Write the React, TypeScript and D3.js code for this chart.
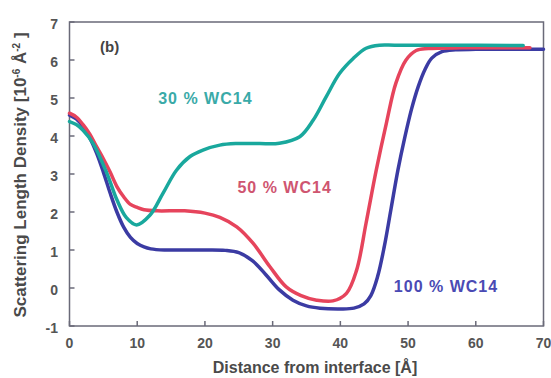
import { useRef, useEffect } from 'react';
import * as d3 from 'd3';

// distances (Å) and scattering length density (10^-6 Å^-2) per sample
const x100 = [0, 1, 2, 3, 4, 5, 6, 7, 8, 9, 10, 11, 12, 14, 17, 20, 23, 25, 27, 29, 31, 33, 35, 37, 40, 42, 43.5, 44.5, 45.5, 46.5, 47.5, 48.5, 49.5, 50.5, 51.5, 52.5, 53.5, 55, 57, 60, 65, 70];
const y100 = [4.55, 4.45, 4.25, 3.95, 3.55, 3.05, 2.5, 2.0, 1.6, 1.33, 1.17, 1.08, 1.03, 1.0, 1.0, 1.0, 0.99, 0.93, 0.72, 0.35, -0.05, -0.32, -0.47, -0.53, -0.55, -0.53, -0.42, -0.2, 0.3, 1.1, 2.1, 3.1, 3.95, 4.7, 5.3, 5.75, 6.05, 6.22, 6.27, 6.28, 6.28, 6.28];

const x50 = [0, 1, 2, 3, 4, 5, 6, 7, 8, 9, 10, 11, 13, 17, 20, 22.2, 24.7, 27.1, 29.6, 32, 34.2, 36.5, 38.9, 40.9, 42.4, 43.8, 45.3, 46.8, 48.2, 49.7, 51.2, 53, 58, 68];
const y50 = [4.6, 4.5, 4.3, 4.05, 3.72, 3.4, 3.05, 2.67, 2.4, 2.2, 2.12, 2.06, 2.03, 2.03, 1.97, 1.86, 1.61, 1.18, 0.56, 0.03, -0.2, -0.32, -0.34, -0.14, 0.47, 1.71, 3.1, 4.34, 5.39, 6.0, 6.25, 6.3, 6.32, 6.32];

const x30 = [0, 1, 2, 3.5, 5.5, 7, 8.4, 9.9, 11.9, 13.8, 15.8, 17.8, 19.7, 22.2, 24.6, 28, 31, 34, 36, 37.9, 39.9, 41.9, 43.8, 45.8, 48, 55, 67];
const y30 = [4.38, 4.3, 4.15, 3.8, 3.03, 2.32, 1.85, 1.66, 1.92, 2.49, 3.1, 3.46, 3.63, 3.76, 3.8, 3.8, 3.81, 3.98, 4.42, 5.03, 5.65, 6.04, 6.31, 6.39, 6.39, 6.39, 6.38];

const xTicks = [0, 10, 20, 30, 40, 50, 60, 70];
const yTicks = [-1, 0, 1, 2, 3, 4, 5, 6, 7];

const series = [
  { name: '100 % WC14', xs: x100, ys: y100, color: '#3b3ba3', text: '#4a4ab4', lx: 47.9, ly: -0.1 },
  { name: '50 % WC14', xs: x50, ys: y50, color: '#e6445c', text: '#cf5570', lx: 24.8, ly: 2.5 },
  { name: '30 % WC14', xs: x30, ys: y30, color: '#19a89d', text: '#3aaaa8', lx: 13.1, ly: 4.85 },
];

export default function App() {
  const svgRef = useRef<SVGSVGElement>(null);

  useEffect(() => {
    if (!svgRef.current) return;
    const svg = d3.select(svgRef.current);
    svg.selectAll('*').remove();

    const left = 69.5, right = 543.5, top = 22, bottom = 326;
    const x = d3.scaleLinear().domain([0, 70]).range([left, right]);
    const y = d3.scaleLinear().domain([-1, 7]).range([bottom, top]);
    const font = 'Liberation Sans, Arial, sans-serif';
    const axisColor = '#555';

    // frame
    svg.append('rect')
      .attr('x', left).attr('y', top)
      .attr('width', right - left).attr('height', bottom - top)
      .attr('fill', 'none').attr('stroke', '#6a6a78').attr('stroke-width', 1.5);

    // ticks (inward)
    svg.selectAll('.xt').data(xTicks).enter().append('line')
      .attr('x1', (d) => x(d)).attr('x2', (d) => x(d))
      .attr('y1', bottom).attr('y2', bottom - 5)
      .attr('stroke', '#6a6a78').attr('stroke-width', 1.5);
    svg.selectAll('.yt').data(yTicks).enter().append('line')
      .attr('x1', left).attr('x2', left + 5)
      .attr('y1', (d) => y(d)).attr('y2', (d) => y(d))
      .attr('stroke', '#6a6a78').attr('stroke-width', 1.5);

    // tick labels
    svg.selectAll('.xl').data(xTicks).enter().append('text')
      .attr('x', (d) => x(d)).attr('y', 348)
      .attr('text-anchor', 'middle')
      .attr('font-family', font).attr('font-size', 14).attr('font-weight', 'bold')
      .attr('fill', axisColor)
      .text((d) => String(d));
    svg.selectAll('.yl').data(yTicks).enter().append('text')
      .attr('x', 58).attr('y', (d) => y(d) + 7)
      .attr('text-anchor', 'end')
      .attr('font-family', font).attr('font-size', 14).attr('font-weight', 'bold')
      .attr('fill', axisColor)
      .text((d) => String(d));

    // axis titles
    svg.append('text')
      .attr('x', 315).attr('y', 373)
      .attr('text-anchor', 'middle')
      .attr('font-family', font).attr('font-size', 16).attr('font-weight', 'bold')
      .attr('fill', '#4a4a4a')
      .text('Distance from interface [Å]');

    const yt = svg.append('text')
      .attr('transform', 'translate(26, 175) rotate(-90)')
      .attr('text-anchor', 'middle')
      .attr('font-family', font).attr('font-size', 17).attr('font-weight', 'bold')
      .attr('fill', '#4a4a4a');
    yt.append('tspan').text('Scattering Length Density [10');
    yt.append('tspan').attr('dy', -6).attr('font-size', 10).text('-6');
    yt.append('tspan').attr('dy', 6).text(' Å');
    yt.append('tspan').attr('dy', -6).attr('font-size', 10).text('-2');
    yt.append('tspan').attr('dy', 6).text(' ]');

    svg.append('text')
      .attr('x', 100).attr('y', 52)
      .attr('font-family', font).attr('font-size', 15).attr('font-weight', 'bold')
      .attr('fill', '#444')
      .text('(b)');

    const line = d3.line<[number, number]>()
      .x((d) => x(d[0]))
      .y((d) => y(d[1]))
      .curve(d3.curveCatmullRom.alpha(0.5));

    for (const s of series) {
      const pts = s.xs.map((v, i) => [v, s.ys[i]] as [number, number]);
      svg.append('path')
        .attr('d', line(pts))
        .attr('fill', 'none')
        .attr('stroke', s.color)
        .attr('stroke-width', 3.5)
        .attr('stroke-linejoin', 'round')
        .attr('stroke-linecap', 'round');
    }

    for (const s of series) {
      svg.append('text')
        .attr('x', x(s.lx)).attr('y', y(s.ly))
        .attr('font-family', font).attr('font-size', 16).attr('font-weight', 'bold')
        .attr('letter-spacing', 1)
        .attr('fill', s.text)
        .text(s.name);
    }
  }, []);

  return (
    <svg
      ref={svgRef}
      width={551}
      height={378}
      style={{ position: 'absolute', left: 0, top: 0, background: '#fff' }}
    />
  );
}
